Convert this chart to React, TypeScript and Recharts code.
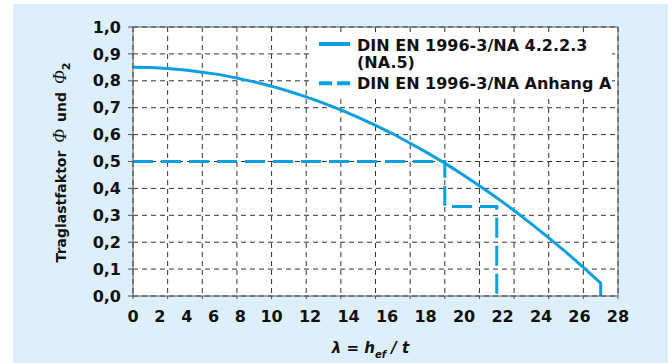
import React from 'react';
import { LineChart, Line, XAxis, YAxis, CartesianGrid, Legend, ReferenceLine } from 'recharts';

// Curve DIN EN 1996-3/NA 4.2.2.3 (NA.5): slenderness λ and factor Φ2
const curveLambda = [0, 1, 2, 3, 4, 5, 6, 7, 8, 9, 10, 11, 12, 13, 14, 15, 16, 17, 18, 19, 20, 21, 22, 23, 24, 25, 26, 27, 27];
const curvePhi = [0.85, 0.849, 0.846, 0.84, 0.832, 0.823, 0.81, 0.796, 0.78, 0.761, 0.74, 0.717, 0.692, 0.664, 0.634, 0.603, 0.568, 0.532, 0.494, 0.453, 0.41, 0.365, 0.318, 0.268, 0.216, 0.163, 0.106, 0.048, 0];

// Step function DIN EN 1996-3/NA Anhang A
const stepLambda = [0, 18, 18, 21, 21];
const stepPhi = [0.5, 0.5, 0.333, 0.333, 0];

const xTicks = [0, 2, 4, 6, 8, 10, 12, 14, 16, 18, 20, 22, 24, 26, 28];
const yTicks = [0, 0.1, 0.2, 0.3, 0.4, 0.5, 0.6, 0.7, 0.8, 0.9, 1.0];
const seriesNames = ['DIN EN 1996-3/NA 4.2.2.3 (NA.5)', 'DIN EN 1996-3/NA Anhang A'];

const curveData = curveLambda.map((x, i) => ({ x, y: curvePhi[i] }));
const stepData = stepLambda.map((x, i) => ({ x, y: stepPhi[i] }));

const BLUE = '#0a9fe0';
const FONT = '"DejaVu Sans", sans-serif';
const W = 655;
const H = 359;
const MARGIN = { top: 23, right: 50, bottom: 37, left: 20 };
const YAXIS_W = 100;
const PLOT_W = W - MARGIN.left - MARGIN.right - YAXIS_W;
const LEG_W = 303;
const LEG_H = 63;

// the reference prints its x labels unevenly (0..8 squeezed, 10..28 stretched)
const labelSlot = (v: number) => (v <= 8 ? v * 0.775 : 8 + (v - 10) * 1.1111);

const XTick = (props: any) => {
  const { x, y, payload } = props;
  const v = payload.value as number;
  const unitPx = PLOT_W / 28;
  const shift = (labelSlot(v) - v) * unitPx;
  return (
    <text x={x + shift} y={y} dy={20.5} textAnchor="middle" fontFamily={FONT} fontWeight="bold" fontSize={16} fill="#111">
      {v}
    </text>
  );
};

const YTitle = (props: any) => {
  const vb = props.viewBox;
  const cx = vb.x + 33;
  const cy = vb.y + vb.height / 2 + 1;
  return (
    <text x={cx} y={cy} transform={`rotate(-90, ${cx}, ${cy})`} textAnchor="middle" fontFamily={FONT} fontWeight="bold" fontSize={14} fill="#111">
      Traglastfaktor
      <tspan dx={8} fontFamily='"Liberation Serif", serif' fontStyle="italic" fontWeight="normal" fontSize={18}>Φ</tspan>
      <tspan dx={7}>und</tspan>
      <tspan dx={8} fontFamily='"Liberation Serif", serif' fontStyle="italic" fontWeight="normal" fontSize={18}>Φ</tspan>
      <tspan dy={4} fontSize={11}>2</tspan>
    </text>
  );
};

const XTitle = (props: any) => {
  const vb = props.viewBox;
  const cx = vb.x + vb.width / 2 - 5;
  const cy = vb.y + 57.3;
  return (
    <text x={cx} y={cy} textAnchor="middle" fontFamily={FONT} fontWeight="bold" fontStyle="italic" fontSize={15} fill="#111">
      λ = h
      <tspan dy={5} fontSize={10}>ef</tspan>
      <tspan dy={-5}> / t</tspan>
    </text>
  );
};

const LegendContent = (props: any) => {
  const payload = (props.payload || []) as any[];
  const names = payload.length ? payload.map((p) => String(p.value)) : seriesNames;
  const first = names[0] || '';
  const split = first.indexOf(' (');
  const line1 = split > 0 ? first.slice(0, split) : first;
  const line2 = split > 0 ? first.slice(split + 1) : '';
  const textProps = { fontFamily: FONT, fontWeight: 'bold' as const, fontSize: 16, fill: '#111' };
  return (
    <svg width={LEG_W} height={LEG_H} style={{ display: 'block' }}>
      <rect x={0} y={0} width={LEG_W} height={LEG_H} fill="#fff" />
      <line x1={10} x2={41} y1={10} y2={10} stroke={BLUE} strokeWidth={4} />
      <text x={48} y={16.7} {...textProps}>{line1}</text>
      <text x={48} y={33.5} {...textProps}>{line2}</text>
      <line x1={10} x2={41} y1={49.3} y2={49.3} stroke={BLUE} strokeWidth={4} strokeDasharray="13 5" />
      <text x={48} y={55.3} {...textProps}>{names[1]}</text>
    </svg>
  );
};

export default function App() {
  return (
    <div style={{ position: 'absolute', left: 13, top: 4, width: W, height: H, background: '#ddeffb' }}>
      <LineChart width={W} height={H} margin={MARGIN}>
        <CartesianGrid stroke="#333" strokeDasharray="5 4" fill="#fff" />
        <XAxis
          type="number"
          dataKey="x"
          domain={[0, 28]}
          ticks={xTicks}
          interval={0}
          allowDataOverflow
          height={30}
          tickSize={3}
          tickMargin={2}
          stroke="#555"
          tick={<XTick />}
          label={{ content: XTitle }}
        />
        <YAxis
          type="number"
          domain={[0, 1]}
          ticks={yTicks}
          interval={0}
          width={YAXIS_W}
          tickSize={5}
          tickMargin={7}
          stroke="#555"
          tickFormatter={(v: number) => v.toFixed(1).replace('.', ',')}
          tick={{ fontFamily: FONT, fontWeight: 'bold', fontSize: 16, fill: '#111' }}
          label={{ content: YTitle }}
        />
        <ReferenceLine y={1} stroke="#555" strokeWidth={1} />
        <ReferenceLine x={28} stroke="#555" strokeWidth={1} />
        <Line
          data={stepData}
          dataKey="y"
          name={seriesNames[1]}
          type="linear"
          stroke={BLUE}
          strokeWidth={3}
          strokeDasharray="20 8"
          dot={false}
          isAnimationActive={false}
        />
        <Line
          data={curveData}
          dataKey="y"
          name={seriesNames[0]}
          type="linear"
          stroke={BLUE}
          strokeWidth={3}
          dot={false}
          isAnimationActive={false}
        />
        <Legend
          layout="horizontal"
          verticalAlign="middle"
          align="center"
          content={LegendContent}
          wrapperStyle={{ position: 'absolute', left: 296, top: 30, width: LEG_W, height: LEG_H }}
        />
      </LineChart>
    </div>
  );
}
